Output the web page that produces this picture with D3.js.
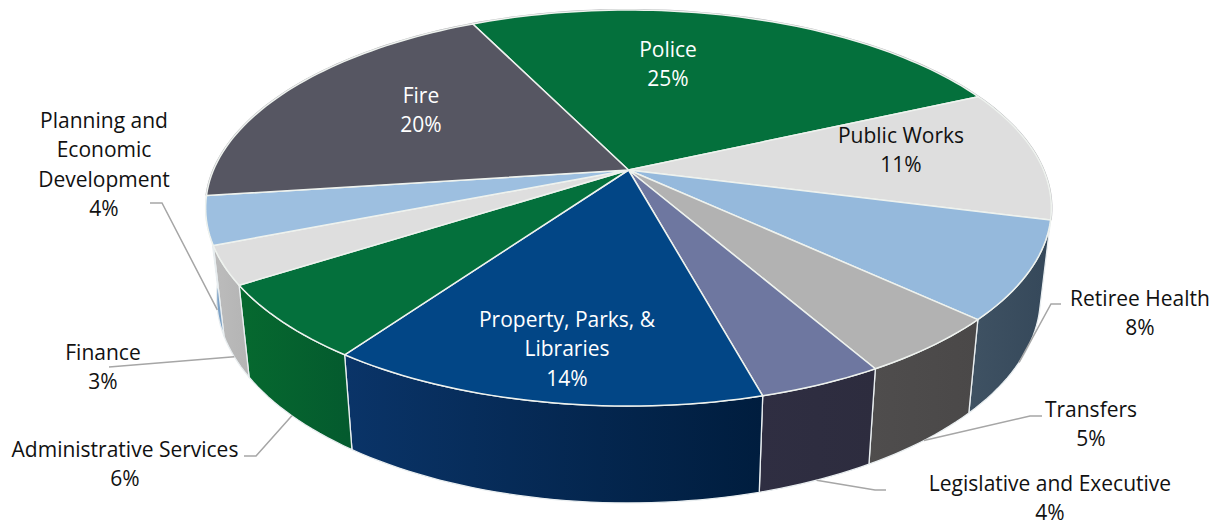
<!DOCTYPE html>
<html>
<head>
<meta charset="utf-8">
<script src="https://cdn.jsdelivr.net/npm/d3@7"></script>
<style>
  html, body { margin: 0; padding: 0; background: #fff; }
  svg { display: block; }
  text { font-family: "Open Sans", sans-serif; font-size: 21px; text-anchor: middle; }
</style>
</head>
<body>
<div id="chart"></div>
<script>
const WIDTH = 1215;
const HEIGHT = 523;

// values, slightly finer than the printed percents
const categories = ["Police", "Public Works", "Retiree Health", "Transfers", "Legislative and Executive",
  "Property, Parks, & Libraries", "Administrative Services", "Finance", "Planning and Economic Development", "Fire"];
const values = [25.4, 10.8, 7.9, 4.8, 4.0, 14.0, 6.1, 3.1, 3.9, 19.8];
const topColors = ["#04703c", "#dedede", "#95b9dc", "#b2b2b2", "#6e77a0", "#024686", "#04703c", "#dedede", "#9dbfe0", "#565662"];
const wallStart = ["#035a30", "#b0b0b0", "#3f5263", "#4f4d4d", "#2f2e42", "#0a3468", "#06692f", "#bcbcbc", "#86a9cc", "#45454f"];
const wallEnd = ["#035a30", "#b0b0b0", "#35485a", "#4a4848", "#2d2c3e", "#001d3e", "#045a2e", "#b4b4b4", "#7a9fc4", "#45454f"];

// label layout: wrapped lines, centre, first baseline, text colour
const labelLines = [["Police"], ["Public Works"], ["Retiree Health"], ["Transfers"], ["Legislative and Executive"],
  ["Property, Parks, &", "Libraries"], ["Administrative Services"], ["Finance"], ["Planning and", "Economic", "Development"], ["Fire"]];
const labelX = [668, 901, 1140, 1091, 1050, 567, 125, 103, 104, 421];
const labelY = [57, 143, 306, 417, 491, 327, 457, 360, 128, 103];
const labelFill = ["#fff", "#111", "#111", "#111", "#111", "#fff", "#111", "#111", "#111", "#fff"];

// leader lines: slice index and the elbow points out to the label
const leaders = [
  { i: 2, pts: [[1051, 304], [1061, 304]] },
  { i: 3, pts: [[1030, 416], [1042, 416]] },
  { i: 4, pts: [[875, 490], [886, 490]] },
  { i: 6, pts: [[256, 456], [244, 456]] },
  { i: 7, pts: [[109, 367]] },
  { i: 8, pts: [[162, 203], [150, 203]] }
];

const svg = d3.select("#chart").append("svg")
  .attr("width", WIDTH)
  .attr("height", HEIGHT);

const defs = svg.append("defs");

// tilted disc: a circle seen in perspective, apex is where the slices meet
const k = 0.192;
const topDisc = { cx: 628.5, cy: 170, rx: 415, ry: 190.7 };
const baseDisc = { cx: 628.5, cy: 257.4, rx: 404.3, ry: 198.4 };

function project(disc, a) {
  const c = Math.sin(a);
  const s = -Math.cos(a);
  const w = 1 - k * s;
  return [disc.cx + disc.rx * c / w, disc.cy + disc.ry * s / w];
}

const start = -26.1 * Math.PI / 180;
const slices = d3.pie().sort(null).value((d, i) => values[i])
  .startAngle(start).endAngle(start + 2 * Math.PI)(categories);

function sample(d) {
  const n = Math.max(2, Math.ceil((d.endAngle - d.startAngle) * 40));
  return d3.range(n + 1).map(j => d.startAngle + (d.endAngle - d.startAngle) * j / n);
}

const midAngle = d => (d.startAngle + d.endAngle) / 2;
const line = d3.line();

slices.forEach((d, i) => {
  const g = defs.append("linearGradient").attr("id", "wall" + i);
  g.append("stop").attr("offset", "0%").attr("stop-color", wallStart[i]);
  g.append("stop").attr("offset", "100%").attr("stop-color", wallEnd[i]);
});

// walls, only the slices that face the viewer
svg.append("g").selectAll("path")
  .data(slices.filter(d => Math.cos(midAngle(d)) < 0))
  .join("path")
  .attr("d", d => {
    const angles = sample(d);
    const pts = angles.map(a => project(topDisc, a))
      .concat(angles.slice().reverse().map(a => project(baseDisc, a)));
    return line(pts) + "Z";
  })
  .attr("fill", d => `url(#wall${d.index})`)
  .attr("stroke", "#e9eef0")
  .attr("stroke-width", 1.3)
  .attr("stroke-linejoin", "round");

// soft grey rim along the back of the disc
svg.append("g").selectAll("path")
  .data(slices.filter(d => Math.cos(midAngle(d)) > 0))
  .join("path")
  .attr("d", d => line(sample(d).map(a => project(topDisc, a))))
  .attr("fill", "none")
  .attr("stroke", "#b4b4b8")
  .attr("stroke-width", 2.2);

// top face
svg.append("g").selectAll("path")
  .data(slices)
  .join("path")
  .attr("d", d => {
    const pts = [[topDisc.cx, topDisc.cy]].concat(sample(d).map(a => project(topDisc, a)));
    return line(pts) + "Z";
  })
  .attr("fill", (d, i) => topColors[i])
  .attr("stroke", "#eef2ee")
  .attr("stroke-width", 1.5)
  .attr("stroke-linejoin", "round");

// leader lines start on the lower wall edge, at the middle of the slice
svg.append("g").selectAll("path")
  .data(leaders)
  .join("path")
  .attr("d", l => line([project(baseDisc, midAngle(slices[l.i]))].concat(l.pts)))
  .attr("fill", "none")
  .attr("stroke", "#a6a6a6")
  .attr("stroke-width", 1.5);

// labels
const labels = svg.append("g").selectAll("text")
  .data(categories)
  .join("text")
  .attr("fill", (d, i) => labelFill[i]);

labels.each(function(d, i) {
  const t = d3.select(this);
  labelLines[i].concat([Math.round(values[i]) + "%"]).forEach((txt, j) => {
    t.append("tspan")
      .attr("x", labelX[i])
      .attr("y", labelY[i] + j * 29.3)
      .text(txt);
  });
});
</script>
</body>
</html>
